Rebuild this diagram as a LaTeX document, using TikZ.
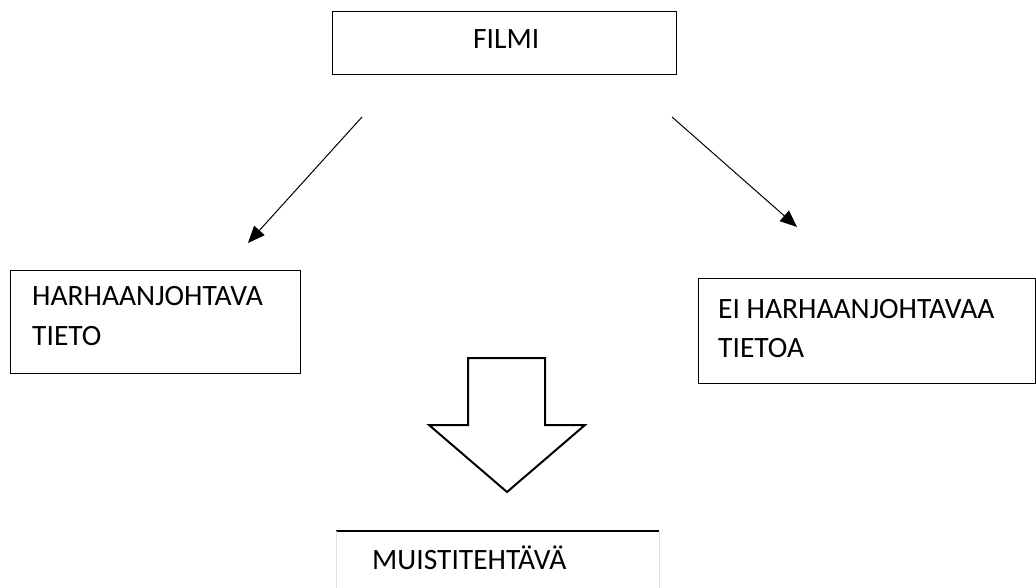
\documentclass[tikz,border=0pt]{standalone}
\usepackage{fontspec}
\setmainfont{Carlito}
\usetikzlibrary{arrows.meta}
\begin{document}
\begin{tikzpicture}[x=1pt,y=-1pt,
  box/.style={draw=black,line width=1.2pt,rectangle,inner sep=0pt,anchor=north west},
  lbl/.style={anchor=base west,inner sep=0pt,font=\fontsize{29.5}{35}\selectfont},
  conn/.style={line width=1pt,-{Triangle[length=17pt,width=14pt]}},
  blockarrow/.style={draw=black,line width=2pt,fill=white,line join=miter}]
\useasboundingbox (0,0) rectangle (1036,587);
% boxes
\node[box,minimum width=344pt,minimum height=63pt] (filmi) at (332,11) {};
\node[box,minimum width=290pt,minimum height=103pt] (harha) at (10,270) {};
\node[box,minimum width=337pt,minimum height=105pt] (eiharha) at (698,278) {};
% bottom box (cut by the page edge)
\coordinate (bl) at (336,531);
\coordinate (br) at (659,531);
\draw[line width=1.2pt] (bl) -- (br);
\draw[gray!25,line width=0.8pt] (bl) -- ++(0,60);
\draw[gray!25,line width=0.8pt] (br) -- ++(0,60);
% texts
\node[lbl] (tfilmi) at (473,48) {FILMI};
\node[lbl] (th1) at (32,305) {HARHAANJOHTAVA};
\node[lbl] (th2) at (32,345) {TIETO};
\node[lbl] (te1) at (718,318) {EI HARHAANJOHTAVAA};
\node[lbl] (te2) at (718,357) {TIETOA};
\node[lbl] (tmuisti) at (372,569) {MUISTITEHTÄVÄ};
% connectors
\coordinate (a1s) at (362,117);
\coordinate (a1e) at (248,243);
\coordinate (a2s) at (672,117);
\coordinate (a2e) at (797,227);
\draw[conn] (a1s) -- (a1e);
\draw[conn] (a2s) -- (a2e);
% block arrow
\draw[blockarrow] (468,358) -- (545,358) -- (545,425) -- (585,425) -- (507,492) -- (429,425) -- (468,425) -- cycle;
\end{tikzpicture}
\end{document}
